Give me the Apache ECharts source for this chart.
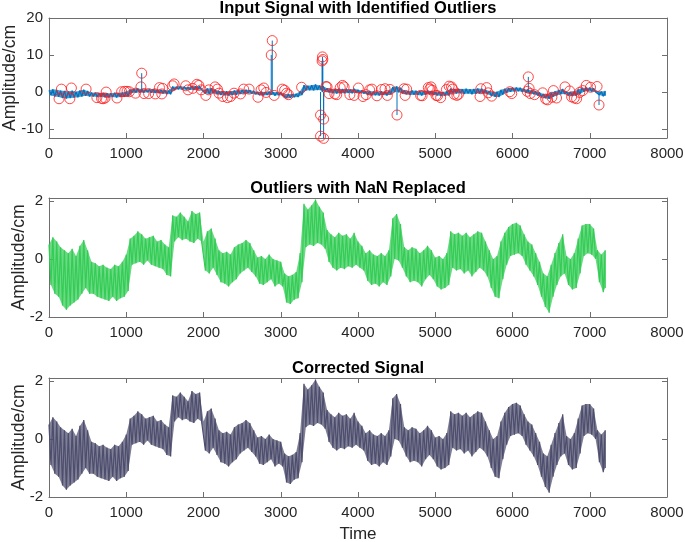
<!DOCTYPE html>
<html><head><meta charset="utf-8">
<script src="https://cdn.jsdelivr.net/npm/echarts@6/dist/echarts.min.js"></script>
<style>html,body{margin:0;padding:0;background:#fff}#c{width:685px;height:542px}</style>
</head><body><div id="c"></div>
<script>
// ---- data ----
const plotTitles = ['Input Signal with Identified Outliers', 'Outliers with NaN Replaced', 'Corrected Signal'];
const yAxisName = 'Amplitude/cm';
const xAxisName = 'Time';
const xTickValues = [0, 1000, 2000, 3000, 4000, 5000, 6000, 7000, 8000];
const topYTicks = [-10, 0, 10, 20];
const lowerYTicks = [-2, 0, 2];

// signal sampled every 50 time units (t = 0 .. 7200): upper and lower edge of the noise band
const sampleStep = 50;
const signalHigh = [
  0.5, 0.75, 0.6, 0.4, 0.3, 0.2, 0.35, 0.1, 0.45, 0.65,
  0.3, -0.1, -0.15, -0.25, -0.2, -0.3, -0.35, -0.2, -0.25, -0.1,
  0.15, 0.7, 0.8, 0.95, 0.85, 0.7, 0.75, 0.8, 0.6, 0.65,
  0.5, 0.4, 1.5, 1.45, 1.6, 1.45, 1.3, 1.65, 1.55, 1.6,
  0.6, 0.95, 1.05, 0.7, 0.3, 0.2, 0.25, 0.15, 0.4, 0.5,
  0.55, 0.65, 0.55, 0.3, 0.05, 0.1, 0.0, 0.15, 0.0, -0.05,
  -0.1, -0.5, -0.6, -0.55, -0.45, 0.2, 1.9, 1.7, 1.85, 2.05,
  1.8, 1.6, 1.0, 0.85, 0.75, 0.9, 0.8, 0.85, 0.7, 0.9,
  0.6, 0.45, 0.2, 0.3, 0.15, 0.1, 0.2, 0.1, 0.3, 1.4,
  1.55, 1.2, 0.4, 0.3, 0.4, 0.35, 0.2, 0.3, 0.45, 0.3,
  0.05, 0.1, 0.0, 0.2, 0.95, 0.85, 0.9, 0.8, 0.9, 0.75,
  0.85, 0.95, 0.9, 0.6, 0.3, 0.0, 0.1, 0.6, 0.9, 1.1,
  1.2, 1.25, 1.15, 0.85, 0.6, 0.5, 0.2, -0.1, -0.5, -0.6,
  -0.2, 0.2, 0.55, 0.85, 0.1, 0.0, 0.2, 0.7, 1.15, 1.2,
  1.2, 1.05, 0.3, 0.15, 0.3
];
const signalLow = [
  -0.9, -1.2, -1.3, -1.6, -1.75, -1.6, -1.5, -1.4, -1.2, -1.0,
  -1.2, -1.2, -1.3, -1.35, -1.4, -1.45, -1.3, -1.45, -1.35, -1.3,
  -1.1, -0.2, -0.15, -0.1, -0.2, -0.05, -0.2, -0.25, -0.3, -0.35,
  -0.55, -0.6, 0.6, 0.75, 0.65, 0.7, 0.6, 0.55, 0.7, 0.6,
  -0.4, -0.5, -0.3, -0.55, -0.8, -0.85, -0.95, -0.8, -0.7, -0.5,
  -0.4, -0.3, -0.45, -0.6, -0.85, -0.9, -0.8, -0.7, -0.95, -0.85,
  -0.95, -1.5, -1.55, -1.4, -1.35, -0.8, 0.4, 0.5, 0.45, 0.55,
  0.5, 0.35, -0.1, -0.3, -0.4, -0.3, -0.35, -0.25, -0.3, -0.2,
  -0.3, -0.4, -0.75, -0.9, -0.85, -0.95, -0.8, -0.9, -0.6, 0.0,
  -0.05, -0.3, -0.6, -0.8, -0.75, -0.8, -0.95, -0.7, -0.55, -0.7,
  -0.95, -1.05, -1.0, -0.9, -0.3, -0.4, -0.35, -0.5, -0.4, -0.6,
  -0.45, -0.3, -0.4, -0.6, -1.0, -1.3, -1.35, -0.7, -0.2, 0.1,
  0.15, 0.2, 0.1, -0.2, -0.4, -0.6, -0.9, -1.3, -1.65, -1.85,
  -1.3, -0.9, -0.6, -0.5, -0.9, -1.05, -1.0, -0.5, 0.1, 0.2,
  0.15, 0.0, -0.8, -1.15, -1.0
];

// identified outliers (red circles)
const outlierTime = [
  130, 160, 270, 290, 480, 620, 680, 700, 725, 740,
  880, 940, 980, 1010, 1040, 1120, 1190, 1200, 1230, 1290,
  1375, 1430, 1460, 1470, 1600, 1620, 1770, 1800, 1860, 1915,
  1940, 1970, 2030, 2070, 2150, 2180, 2200, 2250, 2310, 2350,
  2395, 2480, 2520, 2590, 2705, 2745, 2780, 2810, 2877, 2890,
  2915, 3020, 3050, 3075, 3100, 3270, 3515, 3515, 3535, 3540,
  3545, 3555, 3555, 3585, 3600, 3625, 3700, 3725, 3770, 3800,
  3820, 3895, 3950, 4005, 4065, 4105, 4150, 4180, 4245, 4305,
  4350, 4380, 4415, 4505, 4595, 4610, 4630, 4810, 4830, 4910,
  4930, 4945, 4960, 5010, 5030, 5070, 5145, 5180, 5210, 5225,
  5245, 5280, 5300, 5580, 5590, 5665, 5685, 5730, 5965, 5990,
  6190, 6205, 6215, 6230, 6285, 6390, 6430, 6455, 6510, 6530,
  6570, 6680, 6740, 6765, 6800, 6830, 6870, 6910, 6955, 7010,
  7095, 7120
];
const outlierValue = [
  -1.8, 0.8, -1.8, 1.1, 0.8, -1.5, -1.7, -1.8, -1.6, 0.0,
  -1.6, 0.1, 0.2, 0.2, 0.1, -0.3, 1.4, 5.1, -0.4, -0.4,
  -0.5, 1.2, -0.5, 1.0, 1.7, 2.2, 1.7, 0.6, 1.0, 2.1,
  1.8, 0.6, -0.9, 0.6, 1.4, 0.8, -0.3, -1.2, -1.5, -1.2,
  -0.3, -0.5, 0.8, 0.8, -1.4, 0.6, 1.1, -0.1, 10.0, 13.9,
  -0.9, 0.8, 0.5, -0.3, -0.7, 1.3, -6.2, -11.9, 8.4, 9.5,
  8.8, -7.3, -12.5, 1.5, 1.4, -0.4, -0.5, -0.7, 1.2, 1.8,
  1.4, -0.7, -0.9, 1.1, -1.2, -0.7, 0.6, 0.8, -1.0, 0.7,
  0.9, -0.9, 0.7, -6.2, 0.9, -0.9, 0.8, -0.9, -1.0, 1.2,
  0.8, 1.4, 0.5, -0.9, -1.0, -1.5, 0.7, 1.6, 1.4, 0.8,
  -0.6, -0.9, -0.6, -1.2, 0.9, 1.2, -0.2, -1.1, 0.1, -0.4,
  0.2, 4.1, 1.0, -0.4, -0.7, -0.2, -1.9, -2.1, -1.4, 0.4,
  -1.6, 1.4, 0.3, -1.3, -1.6, -1.8, -0.1, 0.4, 1.8, 1.3,
  1.5, -3.5
];

// ---- build series data from the arrays ----
function signalPoints() {
  const pts = [];
  for (let i = 0; i < signalHigh.length; i++) {
    const t = i * sampleStep;
    pts.push([t, signalHigh[i]]);
    pts.push([i < signalHigh.length - 1 ? t + sampleStep / 2 : t, signalLow[i]]);
  }
  return pts;
}
const sig = signalPoints();
const spikes = [];
outlierTime.forEach((t, i) => {
  const v = outlierValue[i];
  if (Math.abs(v) > 2.5) { spikes.push([t, 0], [t, v], [t, '-']); }
});
const outliers = outlierTime.map((t, i) => [t, outlierValue[i]]);

const FONT = 'Liberation Sans, Arial, sans-serif';
const AX = '#6e6e6e';
const TXT = '#262626';
const grids = [
  { left: 49, right: 18, top: 18, height: 120, outerBoundsMode: 'none', containLabel: false },
  { left: 49, right: 18, top: 198, height: 119, outerBoundsMode: 'none', containLabel: false },
  { left: 49, right: 18, top: 378, height: 119, outerBoundsMode: 'none', containLabel: false }
];
const yRanges = [[-12.4, 20], [-2, 2.1], [-2, 2.1]];
const yTicks = [topYTicks, lowerYTicks, lowerYTicks];
const yNameGaps = [30, 21, 21];
const colors = ['#0072bd', '#33cc55', '#4d4d6d'];

const xAxes = [], yAxes = [], titles = [];
grids.forEach((g, k) => {
  const line = { show: true, onZero: false, lineStyle: { color: AX, width: 1 } };
  const tick = { show: true, inside: true, length: 5, lineStyle: { color: AX, width: 1 } };
  xAxes.push({
    gridIndex: k, type: 'value', position: 'bottom', min: 0, max: 8000,
    axisLine: line,
    axisTick: Object.assign({ customValues: xTickValues }, tick),
    axisLabel: { customValues: xTickValues, formatter: v => String(v), color: TXT, fontSize: 15, margin: 8, fontFamily: FONT },
    splitLine: { show: false },
    name: k === 2 ? xAxisName : '', nameLocation: 'middle', nameGap: 29, nameMoveOverlap: false,
    nameTextStyle: { color: TXT, fontSize: 17, fontFamily: FONT }
  });
  xAxes.push({
    gridIndex: k, type: 'value', position: 'top', min: 0, max: 8000,
    axisLine: line,
    axisTick: Object.assign({ customValues: xTickValues }, tick),
    axisLabel: { show: false }, splitLine: { show: false }
  });
  yAxes.push({
    gridIndex: k, type: 'value', position: 'left', min: yRanges[k][0], max: yRanges[k][1],
    axisLine: line,
    axisTick: Object.assign({ customValues: yTicks[k] }, tick),
    axisLabel: { customValues: yTicks[k], formatter: v => String(v), color: TXT, fontSize: 15, margin: 6, fontFamily: FONT },
    splitLine: { show: false },
    name: yAxisName, nameLocation: 'middle', nameGap: yNameGaps[k], nameMoveOverlap: false,
    nameTextStyle: { color: TXT, fontSize: 17.5, fontFamily: FONT }
  });
  yAxes.push({
    gridIndex: k, type: 'value', position: 'right', min: yRanges[k][0], max: yRanges[k][1],
    axisLine: line,
    axisTick: Object.assign({ customValues: yTicks[k] }, tick),
    axisLabel: { show: false }, splitLine: { show: false }
  });
  titles.push({
    text: plotTitles[k], left: 358, top: g.top - 18, textAlign: 'center', padding: 0,
    textStyle: { color: '#000', fontSize: 16.5, fontWeight: 'bold', fontFamily: FONT }
  });
});

function bandRenderer(color) {
  return function (params, api) {
    const pts = [];
    for (let i = 0; i < signalHigh.length; i++) pts.push(api.coord([i * sampleStep, signalHigh[i]]));
    for (let i = signalLow.length - 1; i >= 0; i--) {
      const t = i < signalLow.length - 1 ? i * sampleStep + sampleStep / 2 : i * sampleStep;
      pts.push(api.coord([t, signalLow[i]]));
    }
    return { type: 'polygon', shape: { points: pts }, style: { fill: color, opacity: 0.72 } };
  };
}

const series = [];
[0, 1, 2].forEach(k => {
  const ax = { xAxisIndex: 2 * k, yAxisIndex: 2 * k };
  series.push(Object.assign({ type: 'custom', data: [[0, 0]], renderItem: bandRenderer(colors[k]), z: 1, silent: true }, ax));
  series.push(Object.assign({ type: 'line', data: sig, symbol: 'none', showSymbol: false,
    lineStyle: { color: colors[k], width: 1.2 }, z: 2 }, ax));
});
series.push({ type: 'line', xAxisIndex: 0, yAxisIndex: 0, data: spikes, symbol: 'none', showSymbol: false,
  connectNulls: false, lineStyle: { color: '#0072bd', width: 1 }, z: 2 });
series.push({ type: 'scatter', xAxisIndex: 0, yAxisIndex: 0, data: outliers, symbol: 'circle', symbolSize: 10,
  clip: false, itemStyle: { color: 'rgba(0,0,0,0)', borderColor: '#ff1a1a', borderWidth: 1 }, z: 3 });

const option = {
  animation: false,
  backgroundColor: '#fff',
  title: titles,
  grid: grids,
  xAxis: xAxes,
  yAxis: yAxes,
  series: series
};
const chart = echarts.init(document.getElementById('c'), null, { renderer: 'canvas' });
chart.setOption(option);
</script>
</body></html>
